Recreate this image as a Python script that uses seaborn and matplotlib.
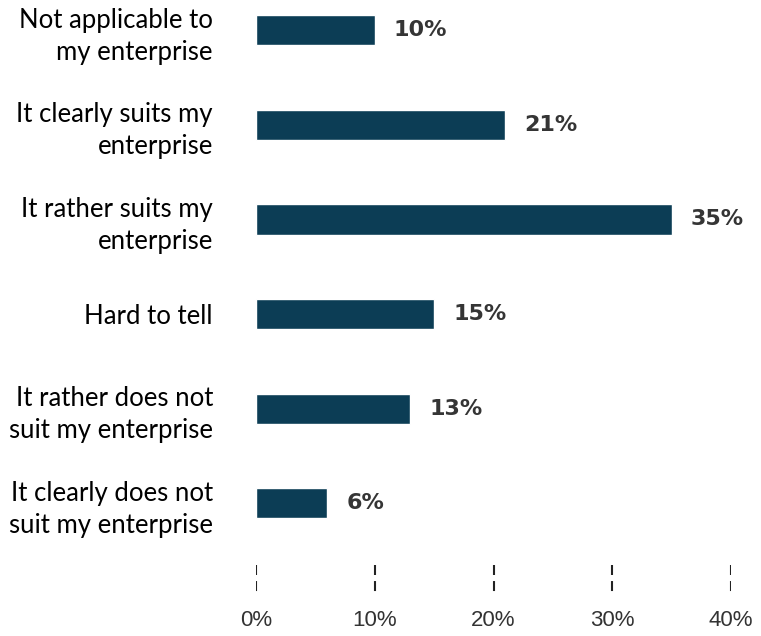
import matplotlib
matplotlib.use("Agg")
import matplotlib.pyplot as plt
import seaborn as sns
import pandas as pd

categories = [
    "Not applicable to\nmy enterprise",
    "It clearly suits my\nenterprise",
    "It rather suits my\nenterprise",
    "Hard to tell",
    "It rather does not\nsuit my enterprise",
    "It clearly does not\nsuit my enterprise",
]
values = [10, 21, 35, 15, 13, 6]
x_ticks = [0, 10, 20, 30, 40]
x_tick_labels = ["0%", "10%", "20%", "30%", "40%"]

sns.set_theme(style="white")
plt.rcParams["font.family"] = ["Liberation Sans", "DejaVu Sans"]

W, H = 761, 636
fig = plt.figure(figsize=(W / 100, H / 100), dpi=100)
# axes: x 0..40 -> px 256..731 ; y top 8px, bottom 598px
ax = fig.add_axes([256 / W, 1 - 598 / H, (731 - 256) / W, (598 - 8) / H])

df = pd.DataFrame({"cat": categories, "val": values})
bar_color = "#0c3d55"
sns.barplot(data=df, y="cat", x="val", orient="h", color=bar_color,
            width=0.32, saturation=1, ax=ax)

ax.set_xlim(0, 40)
ax.set_ylim(6.0, -0.233)
for s in ax.spines.values():
    s.set_visible(False)
ax.set_xlabel("")
ax.set_ylabel("")

# value labels
for i, v in enumerate(values):
    ax.text(v + 1.6, i, f"{v}%", va="center", ha="left", fontsize=16,
            fontweight="bold", color="#353535", family=["DejaVu Sans"])

# category labels
ax.set_yticks(range(len(categories)))
ax.set_yticklabels(categories, fontsize=18.5, color="#000000",
                   family=["Lato", "DejaVu Sans"], multialignment="right",
                   linespacing=1.35)
ax.tick_params(axis="y", length=0, pad=31)

# x ticks as dashed marks
ax.vlines(x_ticks, 5.655, 5.94, colors="#222222",
          linestyles=(0, (4.8, 2.9)), linewidth=1.5)
ax.set_xticks(x_ticks)
ax.set_xticklabels(x_tick_labels, fontsize=16, color="#333333")
ax.tick_params(axis="x", length=0, pad=9)

fig.savefig("out.png", dpi=100)
